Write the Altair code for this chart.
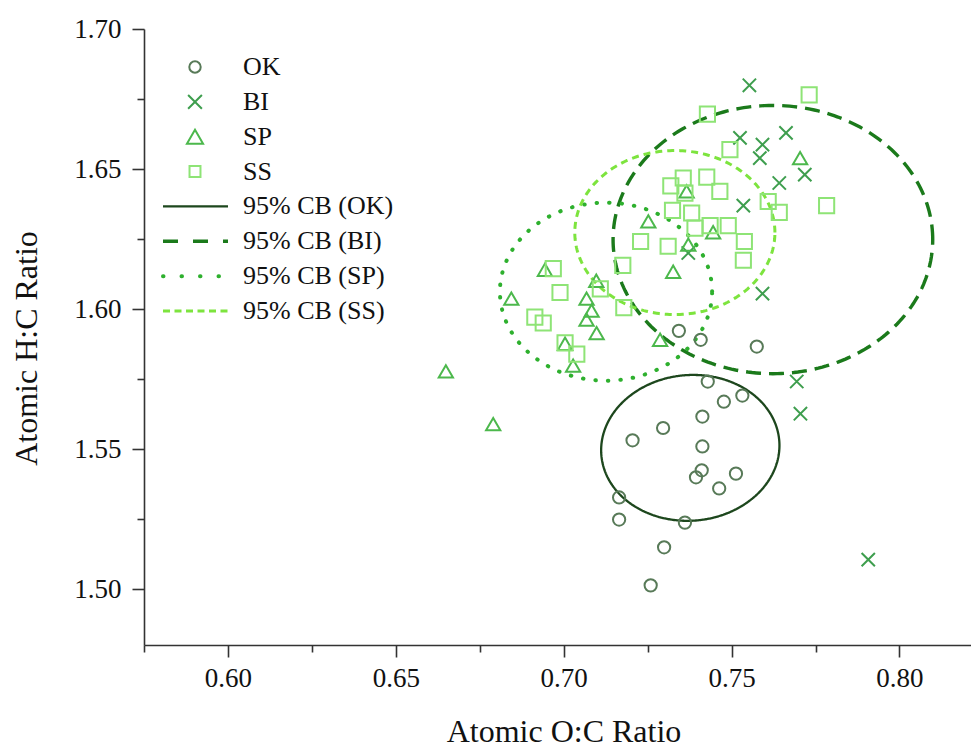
import numpy as np
import pandas as pd
import altair as alt

# ---- measured elemental ratios -------------------------------------------
ok_x = [0.7343, 0.7408, 0.7575, 0.7429, 0.7532, 0.7477, 0.7413, 0.7296, 0.7205, 0.7413,
        0.7411, 0.7394, 0.7513, 0.7463, 0.7165, 0.7165, 0.7361, 0.7299, 0.7259]
ok_y = [1.5922, 1.5890, 1.5866, 1.5741, 1.5691, 1.5669, 1.5616, 1.5575, 1.5531, 1.5509,
        1.5424, 1.5399, 1.5412, 1.5359, 1.5327, 1.5248, 1.5237, 1.5149, 1.5013]

bi_x = [0.7553, 0.7525, 0.7592, 0.7662, 0.7584, 0.7642, 0.7718, 0.7535, 0.7592, 0.7371,
        0.7694, 0.7705, 0.7907]
bi_y = [1.6799, 1.6611, 1.6587, 1.6629, 1.6539, 1.6450, 1.6480, 1.6369, 1.6055, 1.6200,
        1.5741, 1.5626, 1.5105]

sp_x = [0.7704, 0.7366, 0.7252, 0.7445, 0.7371, 0.7326, 0.6944, 0.6844, 0.7097, 0.7068,
        0.7083, 0.7068, 0.7098, 0.7004, 0.7028, 0.7287, 0.6649, 0.6790]
sp_y = [1.6539, 1.6420, 1.6313, 1.6274, 1.6230, 1.6133, 1.6140, 1.6037, 1.6101, 1.6037,
        1.5994, 1.5962, 1.5914, 1.5876, 1.5798, 1.5890, 1.5777, 1.5589]

ss_x = [0.7731, 0.7428, 0.7495, 0.7319, 0.7356, 0.7426, 0.7361, 0.7465, 0.7609, 0.7642,
        0.7783, 0.7324, 0.7381, 0.7391, 0.7436, 0.7490, 0.7538, 0.7535, 0.7229, 0.7311,
        0.7176, 0.6969, 0.6989, 0.7109, 0.6914, 0.6939, 0.7179, 0.7004, 0.7039]
ss_y = [1.6765, 1.6696, 1.6569, 1.6440, 1.6468, 1.6471, 1.6414, 1.6420, 1.6384, 1.6345,
        1.6369, 1.6352, 1.6343, 1.6289, 1.6298, 1.6298, 1.6241, 1.6174, 1.6241, 1.6224,
        1.6156, 1.6144, 1.6059, 1.6072, 1.5971, 1.5950, 1.6005, 1.5879, 1.5839]

# ---- 95% confidence bands: centre, semi-axes and rotation (data units) -----
cb_cx = [0.7377, 0.7623, 0.7126, 0.7331]
cb_cy = [1.5504, 1.6248, 1.6062, 1.6273]
cb_a = [0.0268, 0.0476, 0.0316, 0.0298]
cb_b = [0.0258, 0.0479, 0.0318, 0.0293]
cb_rot = [30, 0, 0, 0]

group_keys = ["OK", "BI", "SP", "SS"]
cb_keys = ["95% CB (OK)", "95% CB (BI)", "95% CB (SP)", "95% CB (SS)"]

# marker styles
pt_colors = ["#587a58", "#3e9e4e", "#4cb84c", "#8ee476"]
x_path = "M-1,-1L1,1M-1,1L1,-1"
pt_shapes = ["circle", x_path, "triangle-up", "square"]
pt_sizes = [150, 230, 380, 170]
key_sizes = [130, 190, 260, 120]

# band line styles
cb_colors = ["#1d471d", "#1b7a1b", "#2eb02e", "#7de43e"]
cb_widths = [2.3, 3.4, 4.0, 3.0]
cb_dash = [[1, 0], [15, 8], [0.5, 12], [7, 5]]
key_dash = [[1, 0], [15, 15], [0.5, 18], [7, 4.5]]
cb_caps = ["butt", "butt", "round", "butt"]

pts = pd.concat([
    pd.DataFrame({"x": xs, "y": ys, "key": k})
    for xs, ys, k in [(ok_x, ok_y, "OK"), (bi_x, bi_y, "BI"),
                      (sp_x, sp_y, "SP"), (ss_x, ss_y, "SS")]
], ignore_index=True)

t = np.linspace(0, 2 * np.pi, 241)


def ring(cx, cy, a, b, rot):
    rr = np.deg2rad(rot)
    ex = cx + a * np.cos(t) * np.cos(rr) - b * np.sin(t) * np.sin(rr)
    ey = cy + a * np.cos(t) * np.sin(rr) + b * np.sin(t) * np.cos(rr)
    return pd.DataFrame({"x": ex, "y": ey, "i": np.arange(len(t))})


FONT = "Liberation Serif"
major = "abs(datum.value*20 - round(datum.value*20)) < 0.001"

x_axis = alt.Axis(
    values=[0.575, 0.6, 0.625, 0.65, 0.675, 0.7, 0.725, 0.75, 0.775, 0.8],
    labelExpr=f"{major} ? format(datum.value, '.2f') : ''",
    tickSize={"condition": {"test": major, "value": 12}, "value": 7},
    title="Atomic O:C Ratio", titleX=419.5, titleY=96, titleAlign="center",
    titleBaseline="alphabetic", titleAnchor="start",
    grid=False, labelOverlap=False, labelFlush=False, labelPadding=8,
)
y_axis = alt.Axis(
    values=[1.5, 1.525, 1.55, 1.575, 1.6, 1.625, 1.65, 1.675, 1.7],
    labelExpr=f"{major} ? format(datum.value, '.2f') : ''",
    tickSize={"condition": {"test": major, "value": 12}, "value": 7},
    title="Atomic H:C Ratio", titleX=-108, titleY=319, titleAlign="center",
    titleBaseline="alphabetic", titleAnchor="start", titleAngle=270,
    grid=False, labelOverlap=False, labelFlush=False, labelPadding=11,
)

x_scale = alt.Scale(domain=[0.575, 0.8213], nice=False, zero=False)
y_scale = alt.Scale(domain=[1.48, 1.70], nice=False, zero=False)
X = alt.X("x:Q", scale=x_scale, axis=x_axis)
Y = alt.Y("y:Q", scale=y_scale, axis=y_axis)

layers = []

# confidence-band ellipses
for j in range(4):
    layers.append(
        alt.Chart(ring(cb_cx[j], cb_cy[j], cb_a[j], cb_b[j], cb_rot[j]))
        .mark_line(clip=True, color=cb_colors[j], strokeWidth=cb_widths[j],
                   strokeDash=cb_dash[j], strokeCap=cb_caps[j])
        .encode(x=X, y=Y, order="i:Q")
    )

# sample markers
layers.append(
    alt.Chart(pts).mark_point(filled=False, strokeWidth=2, opacity=1).encode(
        x=X, y=Y,
        color=alt.Color("key:N", scale=alt.Scale(domain=group_keys, range=pt_colors), legend=None),
        shape=alt.Shape("key:N", scale=alt.Scale(domain=group_keys, range=pt_shapes), legend=None),
        size=alt.Size("key:N", scale=alt.Scale(domain=group_keys, range=pt_sizes), legend=None),
    )
)

# key in the upper-left corner
row0, row_step = 38, 34.86
glyph_x, line_x0, line_x1, text_x = 51, 19, 84, 99
for j, k in enumerate(group_keys):
    ry = row0 + j * row_step
    layers.append(
        alt.Chart(pd.DataFrame({"key": [k]}))
        .mark_point(filled=False, strokeWidth=2, opacity=1, shape=pt_shapes[j],
                    size=key_sizes[j], color=pt_colors[j])
        .encode(x=alt.value(glyph_x), y=alt.value(ry))
    )
for j, k in enumerate(cb_keys):
    ry = row0 + (j + 4) * row_step
    layers.append(
        alt.Chart(pd.DataFrame({"key": [k]}))
        .mark_rule(color=cb_colors[j], strokeWidth=cb_widths[j],
                   strokeDash=key_dash[j], strokeCap=cb_caps[j])
        .encode(x=alt.value(line_x0), x2=alt.value(line_x1), y=alt.value(ry))
    )
for j, k in enumerate(group_keys + cb_keys):
    ry = row0 + j * row_step
    layers.append(
        alt.Chart(pd.DataFrame({"key": [k]}))
        .mark_text(align="left", baseline="middle", font=FONT, fontSize=26, color="#111")
        .encode(x=alt.value(text_x), y=alt.value(ry), text="key:N")
    )

chart = (
    alt.layer(*layers)
    .properties(
        width=827, height=616,
        autosize=alt.AutoSizeParams(type="none"),
        padding={"left": 144, "top": 29, "right": 0, "bottom": 102},
        background="white",
    )
    .configure_view(stroke=None)
    .configure_axis(
        labelFont=FONT, labelFontSize=27, labelColor="#111",
        titleFont=FONT, titleFontSize=32, titleFontWeight="normal", titleColor="#111",
        domainColor="#333", domainWidth=1.6, tickColor="#333", tickWidth=1.6,
    )
)

chart.save("out.html", embed_options={"renderer": "svg", "actions": False})
